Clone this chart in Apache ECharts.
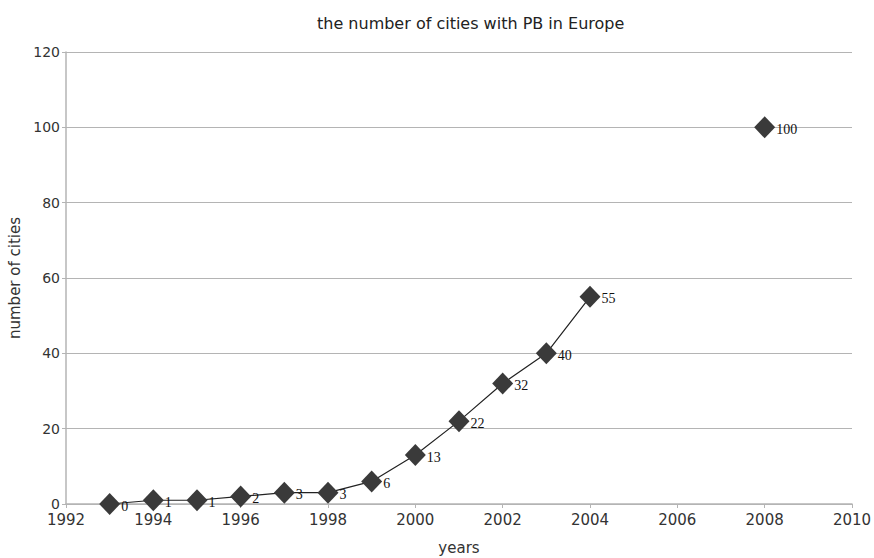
<!DOCTYPE html>
<html>
<head>
<meta charset="utf-8">
<script src="https://cdn.jsdelivr.net/npm/echarts@6/dist/echarts.min.js"></script>
<style>
  html, body { margin: 0; padding: 0; background: #fff; }
  #chart { width: 874px; height: 558px; }
</style>
</head>
<body>
<div id="chart"></div>
<script>
const titleText = 'the number of cities with PB in Europe';
const years = [1993, 1994, 1995, 1996, 1997, 1998, 1999, 2000, 2001, 2002, 2003, 2004, 2008];
const cities = [0, 1, 1, 2, 3, 3, 6, 13, 22, 32, 40, 55, 100];

// break the line where years are missing
const lineData = [];
years.forEach((year, i) => {
  if (i > 0 && year - years[i - 1] > 1) lineData.push([year - 1, '-']);
  lineData.push([year, cities[i]]);
});

const chart = echarts.init(document.getElementById('chart'), null, { renderer: 'svg' });
const axisFont = { fontFamily: 'DejaVu Sans', fontSize: 14, color: '#333' };

chart.setOption({
  animation: false,
  backgroundColor: '#fff',
  title: {
    text: titleText,
    left: 312,
    top: 10,
    textStyle: { fontFamily: 'DejaVu Sans', fontSize: 16, fontWeight: 'normal', color: '#222' },
  },
  grid: { left: 66, right: 22, top: 52, bottom: 54, outerBoundsMode: 'none' },
  xAxis: {
    type: 'value',
    min: 1992,
    max: 2010,
    interval: 2,
    name: 'years',
    nameLocation: 'middle',
    nameGap: 36,
    nameTextStyle: { ...axisFont, fontSize: 15 },
    axisLine: { lineStyle: { color: '#b4b4b4', width: 1.5 } },
    axisTick: { show: true, length: 4, lineStyle: { color: '#b4b4b4' } },
    axisLabel: { ...axisFont, fontSize: 15, margin: 8, formatter: (v) => String(v) },
    splitLine: { show: false },
  },
  yAxis: {
    type: 'value',
    min: 0,
    max: 120,
    interval: 20,
    name: 'number of cities',
    nameLocation: 'middle',
    nameGap: 42,
    nameTextStyle: { ...axisFont, fontSize: 15 },
    axisLine: { show: true, lineStyle: { color: '#b4b4b4', width: 1.5 } },
    axisTick: { show: true, length: 4, lineStyle: { color: '#b4b4b4' } },
    axisLabel: { ...axisFont, margin: 6 },
    splitLine: { lineStyle: { color: '#b4b4b4', width: 1 } },
  },
  series: [
    {
      type: 'line',
      data: lineData,
      connectNulls: false,
      symbol: 'diamond',
      symbolSize: [21, 22],
      showAllSymbol: true,
      itemStyle: { color: '#3a3a3a' },
      lineStyle: { color: '#222', width: 1.2 },
      label: {
        show: true,
        position: 'right',
        distance: 0,
        offset: [1, 2],
        fontFamily: 'Liberation Serif',
        fontSize: 14,
        color: '#111',
        formatter: (p) => String(p.value[1]),
      },
    },
  ],
});
</script>
</body>
</html>
